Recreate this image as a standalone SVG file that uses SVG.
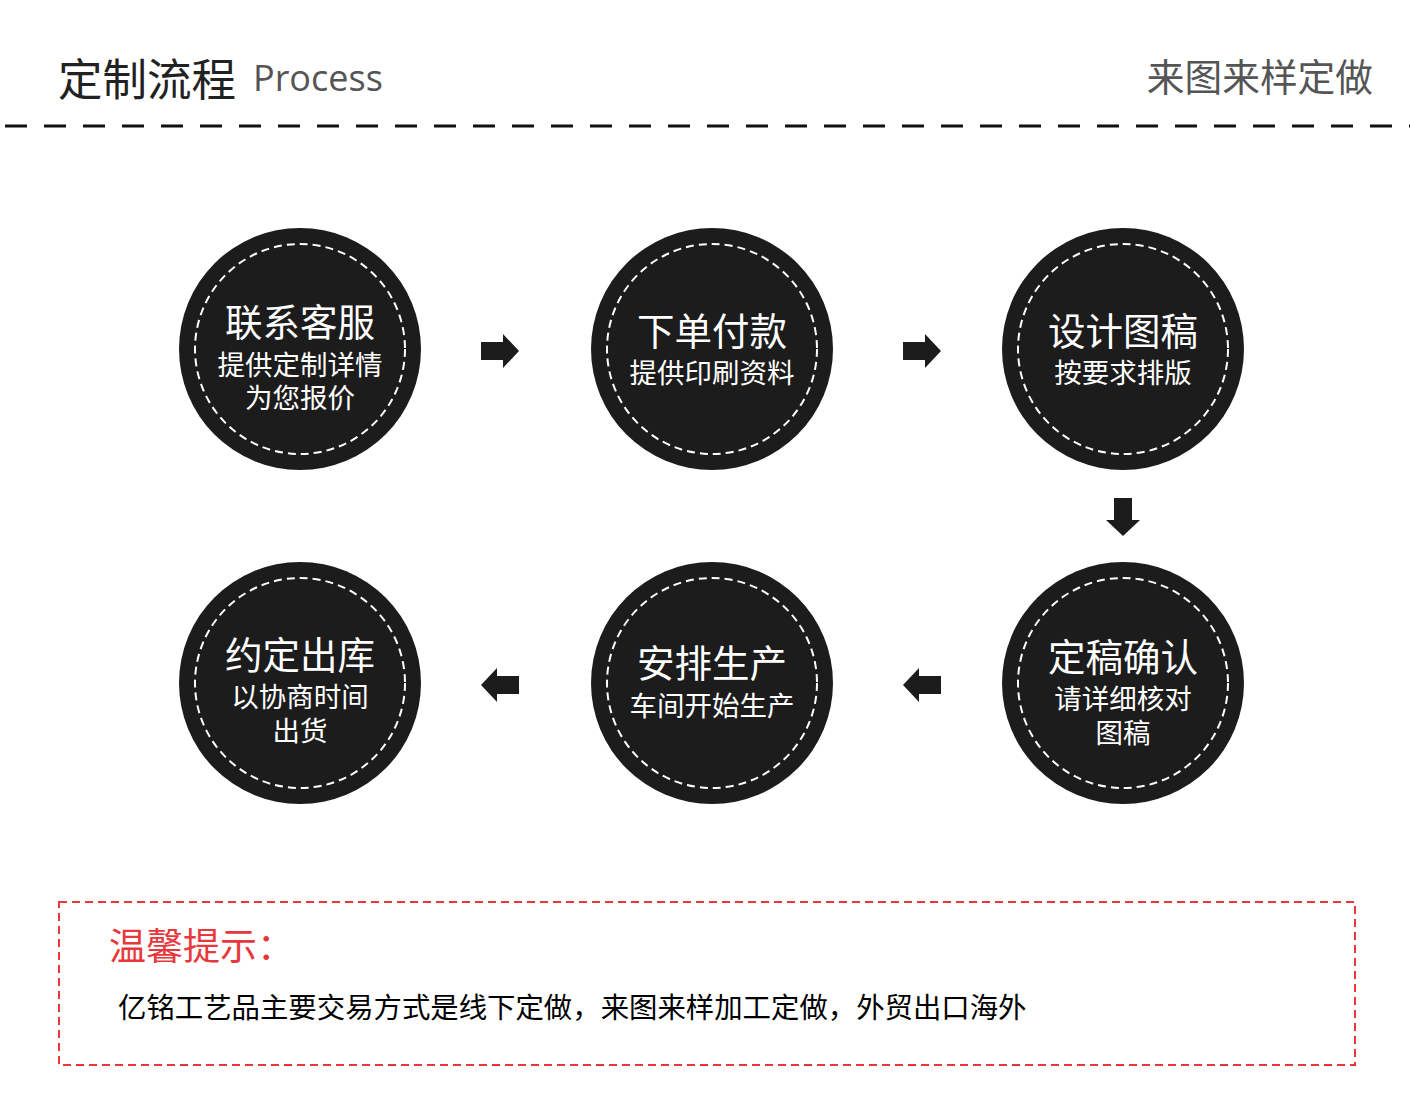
<svg xmlns="http://www.w3.org/2000/svg" width="1410" height="1106" viewBox="0 0 1410 1106">
<style>
.cjk{font-family:"Noto Sans CJK SC","Noto Sans",sans-serif}
.disc{fill:#1c1c1c}
.ring{fill:none;stroke:#fff;stroke-width:2;stroke-dasharray:8 5}
.lbl{fill:#fff;text-anchor:middle}
.t1{font-size:37.5px}
.t2{font-size:27.5px}
.arr{fill:#1c1c1c}
</style>
<defs>
<path id="ar" d="M-19,-9 H3 V-17 L19,0 L3,17 V9 H-19 Z"/>
</defs>
<rect width="1410" height="1106" fill="#fff"/>
<g id="header">
<text class="cjk" x="58" y="96" font-size="44.5" fill="#222">定制流程</text>
<text x="253" y="91" font-family="'Open Sans',sans-serif" font-size="36" fill="#555">Process</text>
<text class="cjk" x="1373" y="91" font-size="37.7" fill="#555" text-anchor="end">来图来样定做</text>
<line x1="5" y1="126" x2="1410" y2="126" stroke="#111" stroke-width="3" stroke-dasharray="22 17"/>
</g>
<g id="node1" class="cjk">
<circle class="disc" cx="300" cy="349" r="121"/><circle class="ring" cx="300" cy="349" r="105"/>
<text class="lbl"><tspan class="t1" x="300" y="336">联系客服</tspan><tspan class="t2" x="300" y="375">提供定制详情</tspan><tspan class="t2" x="300" y="408">为您报价</tspan></text>
</g>
<g id="node2" class="cjk">
<circle class="disc" cx="712" cy="349" r="121"/><circle class="ring" cx="712" cy="349" r="105"/>
<text class="lbl"><tspan class="t1" x="712" y="345">下单付款</tspan><tspan class="t2" x="712" y="383">提供印刷资料</tspan></text>
</g>
<g id="node3" class="cjk">
<circle class="disc" cx="1123" cy="349" r="121"/><circle class="ring" cx="1123" cy="349" r="105"/>
<text class="lbl"><tspan class="t1" x="1123" y="345">设计图稿</tspan><tspan class="t2" x="1123" y="383">按要求排版</tspan></text>
</g>
<g id="node4" class="cjk">
<circle class="disc" cx="1123" cy="683" r="121"/><circle class="ring" cx="1123" cy="683" r="105"/>
<text class="lbl"><tspan class="t1" x="1123" y="671">定稿确认</tspan><tspan class="t2" x="1123" y="709">请详细核对</tspan><tspan class="t2" x="1123" y="743">图稿</tspan></text>
</g>
<g id="node5" class="cjk">
<circle class="disc" cx="712" cy="683" r="121"/><circle class="ring" cx="712" cy="683" r="105"/>
<text class="lbl"><tspan class="t1" x="712" y="677">安排生产</tspan><tspan class="t2" x="712" y="716">车间开始生产</tspan></text>
</g>
<g id="node6" class="cjk">
<circle class="disc" cx="300" cy="683" r="121"/><circle class="ring" cx="300" cy="683" r="105"/>
<text class="lbl"><tspan class="t1" x="300" y="669">约定出库</tspan><tspan class="t2" x="300" y="707">以协商时间</tspan><tspan class="t2" x="300" y="741">出货</tspan></text>
</g>
<g id="connectors" class="arr">
<use href="#ar" transform="translate(500,351)"/>
<use href="#ar" transform="translate(922,351)"/>
<use href="#ar" transform="translate(1123,517) rotate(90)"/>
<use href="#ar" transform="translate(922,685) rotate(180)"/>
<use href="#ar" transform="translate(500,685) rotate(180)"/>
</g>
<g id="notice" class="cjk">
<rect x="59" y="902" width="1296" height="163" fill="none" stroke="#e8383d" stroke-width="2" stroke-dasharray="8 5"/>
<text x="109" y="960" font-size="37" fill="#e8383d">温馨提示：</text>
<text x="118" y="1018" font-size="28.4" fill="#000">亿铭工艺品主要交易方式是线下定做，来图来样加工定做，外贸出口海外</text>
</g>
</svg>
